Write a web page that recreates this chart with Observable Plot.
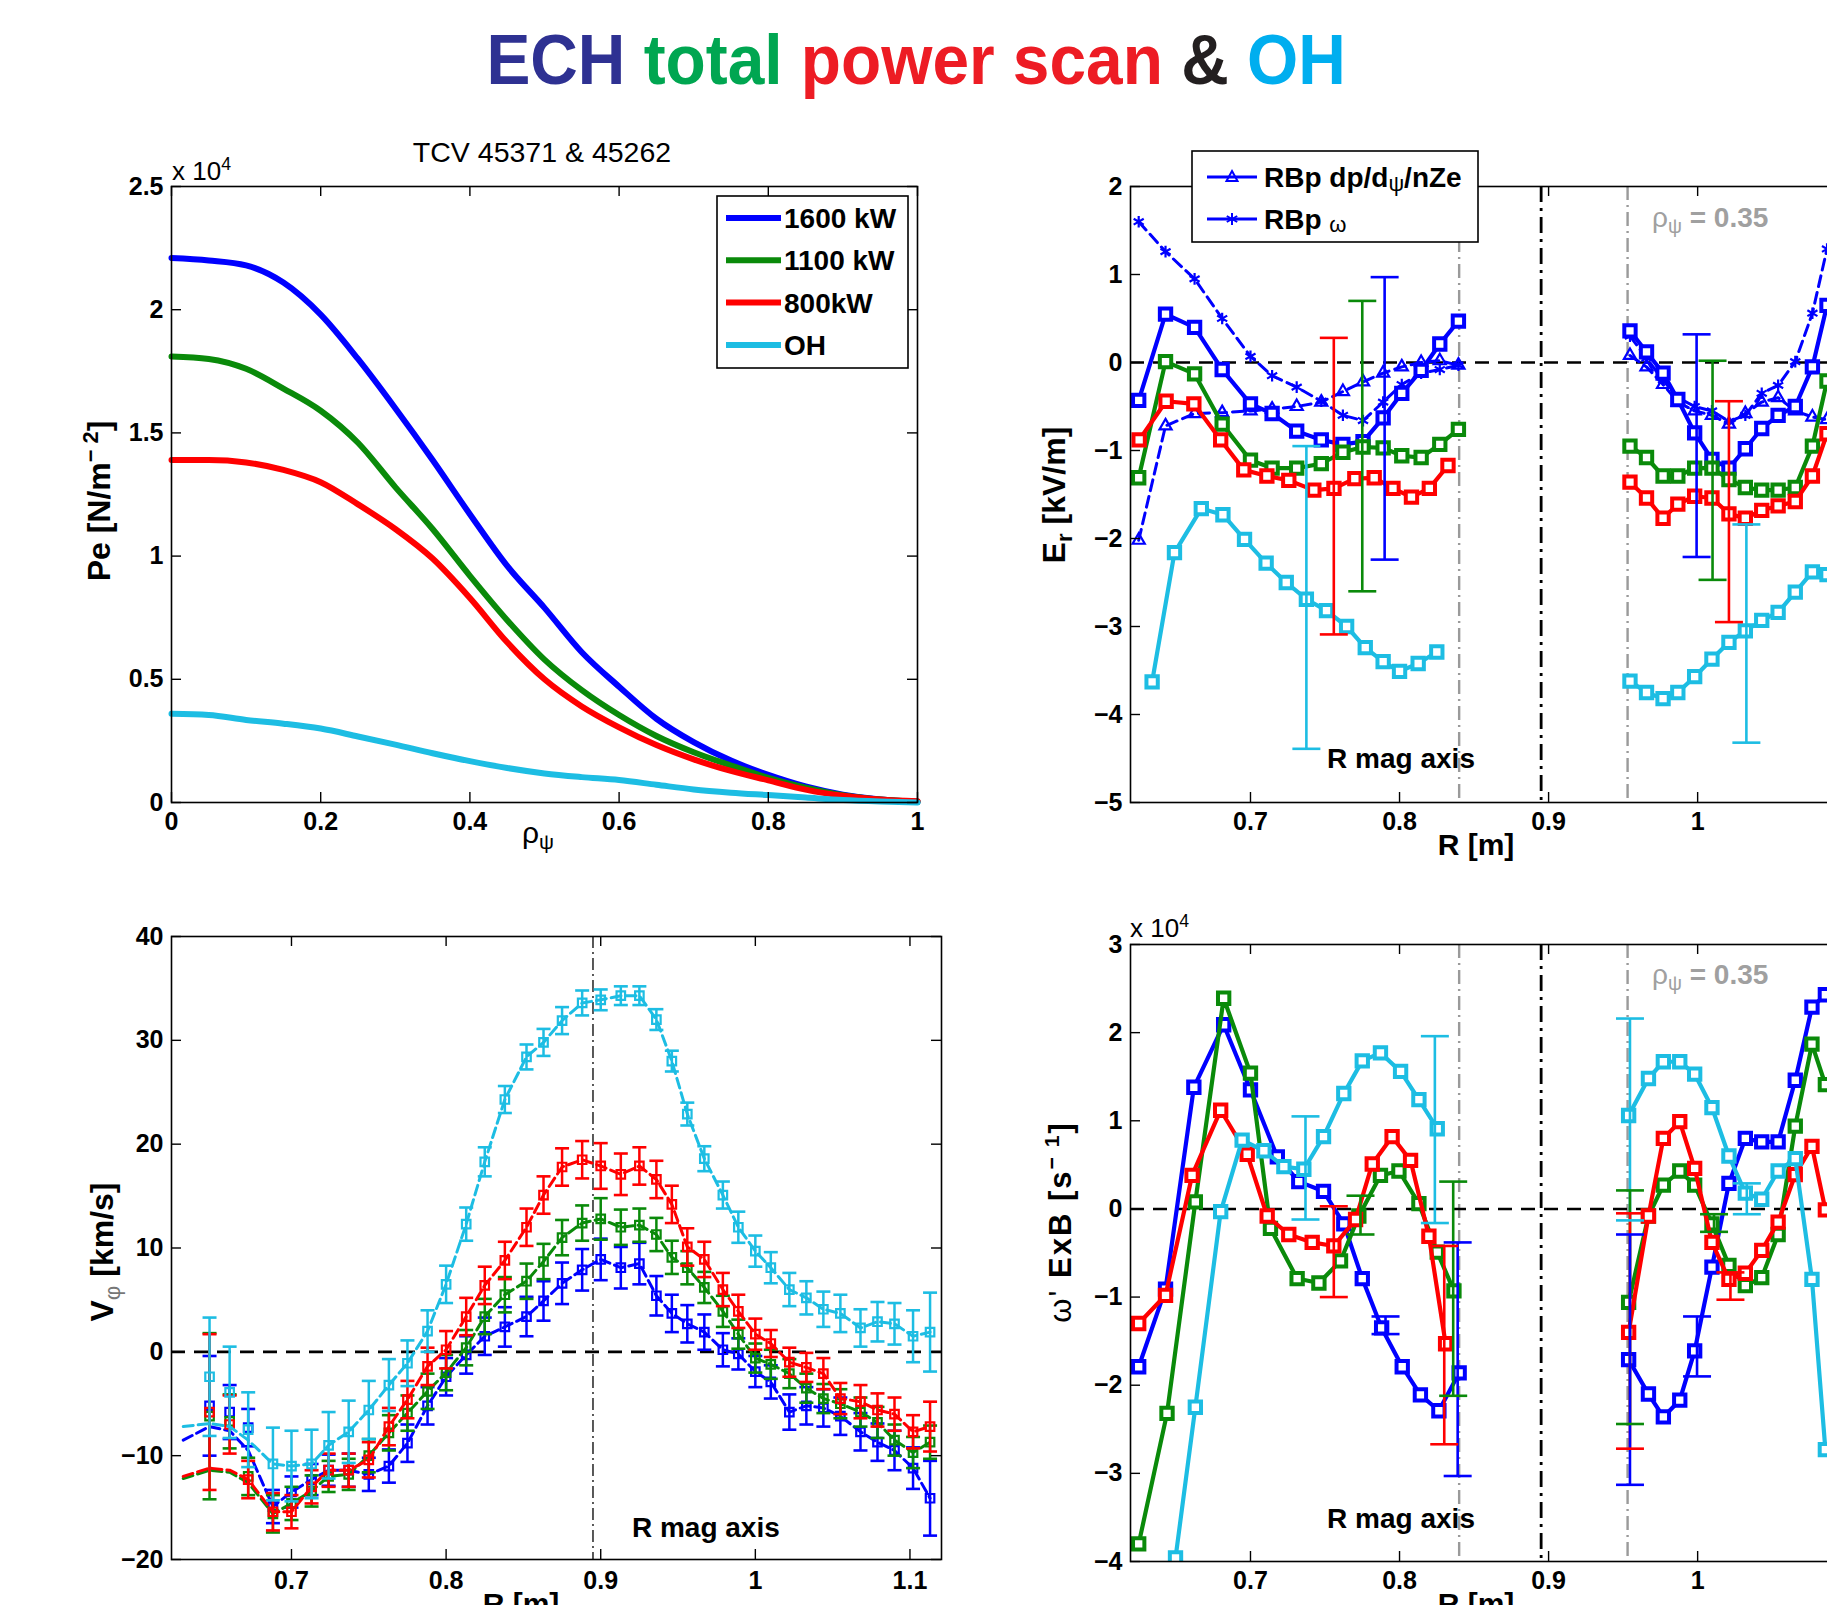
<!DOCTYPE html>
<html><head><meta charset="utf-8">
<script src="https://cdn.jsdelivr.net/npm/d3@7"></script>
<script src="https://cdn.jsdelivr.net/npm/@observablehq/plot@0.6"></script>
<style>
body{margin:0;background:#fff;}
#root{position:relative;width:1827px;height:1605px;overflow:hidden;background:#fff;font-family:'Liberation Sans',Arial,Helvetica,sans-serif;}
.t{position:absolute;white-space:nowrap;line-height:1;}
.rot{position:absolute;white-space:nowrap;line-height:1;transform:translate(-50%,-50%) rotate(-90deg);font-weight:bold;}
sup{font-size:0.68em;line-height:0;vertical-align:0.55em;}
sub{font-size:0.7em;line-height:0;vertical-align:-0.3em;}
</style></head>
<body><div id="root"></div>
<script>
// ---------------- DATA ----------------
const COL = {blue:"#0000ff", green:"#0a8a0a", red:"#ff0000", cyan:"#1dbde3"};

// Panel 1: Pe profiles (x 10^4 N/m^-2) vs rho_psi
const rho     = [0,0.05,0.1,0.15,0.2,0.25,0.3,0.35,0.4,0.45,0.5,0.55,0.6,0.65,0.7,0.75,0.8,0.85,0.9,0.95,1.0];
const pe1600  = [2.21,2.20,2.18,2.11,1.98,1.80,1.60,1.39,1.17,0.96,0.79,0.61,0.47,0.34,0.245,0.17,0.112,0.065,0.032,0.012,0.003];
const pe1100  = [1.81,1.80,1.76,1.68,1.59,1.46,1.28,1.11,0.92,0.74,0.58,0.456,0.355,0.27,0.204,0.15,0.10,0.06,0.03,0.012,0.003];
const pe800   = [1.39,1.39,1.38,1.35,1.30,1.21,1.11,0.99,0.83,0.65,0.50,0.39,0.305,0.233,0.175,0.128,0.09,0.052,0.027,0.012,0.005];
const peOH    = [0.36,0.355,0.335,0.32,0.30,0.268,0.235,0.20,0.168,0.14,0.118,0.103,0.091,0.072,0.053,0.04,0.03,0.02,0.01,0.004,0];
const p1Labels = ["1600 kW","1100 kW","800kW","OH"];
const p1XTicks = [0,0.2,0.4,0.6,0.8,1];
const p1YTicks = [0,0.5,1,1.5,2,2.5];

// Panel 2: Er [kV/m] vs R [m]
const erR_L   = [0.625,0.643,0.6625,0.681,0.700,0.7145,0.731,0.7475,0.762,0.7755,0.789,0.8015,0.8145,0.827,0.8395];
const erRred_L= [0.6253,0.6434,0.662,0.680,0.6955,0.711,0.7257,0.7425,0.756,0.770,0.783,0.7956,0.808,0.820,0.8325];
const erRcy_L = [0.634,0.649,0.667,0.6815,0.696,0.7105,0.724,0.7375,0.751,0.7645,0.777,0.789,0.800,0.8125,0.825];
const erBlue_L  = [-0.43,0.55,0.40,-0.08,-0.47,-0.58,-0.78,-0.88,-0.93,-0.90,-0.63,-0.35,-0.09,0.21,0.47];
const erGreen_L = [-1.31,0.01,-0.13,-0.70,-1.11,-1.20,-1.20,-1.15,-1.02,-0.96,-0.97,-1.06,-1.08,-0.93,-0.76];
const erRed_L   = [-0.88,-0.44,-0.47,-0.88,-1.22,-1.29,-1.34,-1.45,-1.43,-1.32,-1.31,-1.43,-1.53,-1.43,-1.17];
const erCyan_L  = [-3.63,-2.16,-1.66,-1.73,-2.01,-2.28,-2.50,-2.69,-2.82,-3.00,-3.24,-3.40,-3.51,-3.42,-3.29];
const erTri_L   = [-2.02,-0.72,-0.58,-0.57,-0.55,-0.53,-0.50,-0.45,-0.33,-0.22,-0.12,-0.05,0.00,0.02,-0.03];
const erStar_L  = [1.60,1.26,0.95,0.50,0.07,-0.15,-0.28,-0.44,-0.60,-0.66,-0.45,-0.25,-0.12,-0.08,-0.03];
const erR_R     = [0.9546,0.9657,0.9768,0.9867,0.998,1.0096,1.021,1.032,1.043,1.054,1.0655,1.077,1.0868];
const erBlue_R  = [0.36,0.12,-0.12,-0.42,-0.80,-1.10,-1.20,-0.98,-0.75,-0.60,-0.50,-0.05,0.65];
const erGreen_R = [-0.95,-1.08,-1.29,-1.29,-1.20,-1.20,-1.33,-1.42,-1.45,-1.45,-1.42,-0.95,-0.21];
const erRed_R   = [-1.36,-1.54,-1.77,-1.61,-1.52,-1.54,-1.72,-1.77,-1.68,-1.63,-1.58,-1.29,-0.81];
const erCyan_R  = [-3.62,-3.75,-3.82,-3.75,-3.57,-3.37,-3.18,-3.05,-2.93,-2.84,-2.61,-2.38,-2.41];
const erTri_R   = [0.08,-0.05,-0.25,-0.45,-0.55,-0.60,-0.70,-0.58,-0.45,-0.40,-0.55,-0.62,-0.65];
const erStar_R  = [0.30,0.05,-0.20,-0.40,-0.50,-0.55,-0.67,-0.60,-0.35,-0.26,0.01,0.56,1.29];
const erErrR    = [0.7375,0.7559,0.775,0.790,0.9993,1.010,1.021,1.0327];
const erErrLo   = [-4.39,-3.09,-2.60,-2.24,-2.21,-2.47,-2.95,-4.32];
const erErrHi   = [-0.95,0.28,0.70,0.97,0.32,0.02,-0.44,-1.84];
const erErrCol  = ["cyan","red","green","blue","blue","green","red","cyan"];
const p2Legend  = ["RBp dp/d", "ψ", "/nZe", "RBp ", "ω"];
const p2XTicks = [0.7,0.8,0.9,1,1.1];
const p2YTicks = [-5,-4,-3,-2,-1,0,1,2];

// vertical reference lines
const rhoLines = [0.840, 0.953];   // rho_psi = 0.35
const magAxis  = [0.895];          // R mag axis

// Panel 3: V_phi [km/s] vs R [m]
const R3 = [0.647,0.660,0.672,0.688,0.700,0.713,0.724,0.737,0.750,0.763,0.775,0.788,0.800,0.813,0.825,0.838,0.852,0.863,0.875,0.888,0.900,0.913,0.925,0.936,0.946,0.956,0.967,0.979,0.989,1.000,1.010,1.022,1.033,1.044,1.055,1.068,1.079,1.090,1.102,1.113];
const vCyan  = [-2.4,-3.9,-7.5,-10.8,-11.0,-10.8,-9.0,-7.7,-5.6,-3.2,-1.1,2.0,6.5,12.3,18.3,24.3,28.4,29.8,31.9,33.6,33.9,34.3,34.3,32.0,28.0,22.9,18.6,15.1,12.0,9.7,8.1,6.0,5.2,4.1,3.7,2.3,2.9,2.7,1.5,1.9];
const eCyan  = [5.7,4.4,3.6,3.5,3.4,3.3,3.2,3.0,2.8,2.5,2.2,2.0,1.8,1.6,1.4,1.3,1.2,1.3,1.3,1.2,1.0,0.9,0.9,1.0,1.0,1.1,1.2,1.3,1.5,1.5,1.5,1.6,1.6,1.7,1.8,1.8,1.9,2.0,2.5,3.8];
const vRed   = [-5.8,-7.0,-12.3,-15.4,-15.4,-13.0,-11.4,-11.4,-10.4,-7.2,-4.6,-1.4,0.2,3.4,6.4,8.8,12.0,15.1,17.8,18.5,17.9,17.1,17.9,16.6,14.2,10.1,8.9,6.0,3.9,1.7,0.8,-1.0,-1.5,-2.1,-4.5,-4.8,-5.6,-6.0,-7.7,-7.2];
const eRed   = [7.5,2.8,1.8,1.8,1.6,1.6,1.6,1.6,1.7,1.8,1.8,1.8,1.8,1.8,1.8,1.8,1.8,1.8,1.8,1.8,2.2,2.0,1.8,1.8,1.8,1.8,1.7,1.6,1.6,1.5,1.3,1.4,1.4,1.5,1.5,1.6,1.6,1.6,1.6,2.4];
const vGreen = [-6.2,-6.7,-12.0,-15.6,-14.6,-13.4,-12.0,-11.8,-10.0,-7.8,-5.9,-3.8,-2.0,0.4,3.4,5.5,6.8,8.7,11.0,12.4,12.8,12.0,12.2,11.3,9.1,8.1,6.2,3.9,1.7,-0.6,-1.2,-2.1,-3.5,-4.5,-5.0,-5.8,-6.8,-8.5,-9.7,-8.7];
const eGreen = [8.0,2.6,1.8,1.8,1.6,1.5,1.5,1.5,1.6,1.7,1.7,1.7,1.7,1.7,1.7,1.7,1.7,1.7,1.7,1.7,2.0,1.7,1.6,1.6,1.6,1.6,1.5,1.5,1.4,1.4,1.4,1.4,1.4,1.4,1.4,1.4,1.5,1.5,1.5,1.6];
const vBlue  = [-5.2,-5.8,-7.3,-14.9,-13.5,-12.3,-11.4,-11.4,-11.8,-11.0,-8.8,-5.2,-2.4,-0.3,1.5,2.4,3.4,4.9,6.6,7.9,8.9,8.1,8.5,5.4,3.7,2.7,1.9,0.2,-0.2,-1.9,-2.9,-5.8,-5.2,-5.4,-6.2,-7.7,-8.7,-9.5,-11.2,-14.1];
const eBlue  = [4.8,2.6,1.8,1.6,1.5,1.5,1.5,1.6,1.6,1.6,1.8,1.8,1.8,1.8,1.8,1.9,1.9,1.9,2.0,2.0,2.0,2.0,2.0,1.9,1.8,1.8,1.7,1.6,1.5,1.5,1.6,1.7,1.8,1.8,1.8,1.8,1.8,1.9,2.0,3.6];
// dashed profile lines at the inboard edge (line only, before joining the points)
const R3head     = [0.630,0.647,0.660,0.672];
const blueHead   = [-8.5,-7.2,-7.6,-9.5];
const greenHead  = [-12.2,-11.4,-11.6,-12.6];
const redHead    = [-12.0,-11.2,-11.4,-12.3];
const cyanHead   = [-7.2,-6.9,-7.2,-8.5];
const p3XTicks = [0.7,0.8,0.9,1,1.1];
const p3YTicks = [-20,-10,0,10,20,30,40];

// Panel 4: omega' ExB (x 10^4 s^-1) vs R [m]
const wRblue_L  = [0.625,0.643,0.662,0.682,0.700,0.718,0.7324,0.749,0.7626,0.775,0.788,0.8018,0.814,0.8264,0.840];
const wBlue_L   = [-1.79,-0.91,1.38,2.09,1.35,0.59,0.31,0.20,-0.17,-0.79,-1.35,-1.79,-2.11,-2.29,-1.86];
const wRgreen_L = [0.625,0.644,0.663,0.682,0.700,0.7134,0.7313,0.7459,0.7604,0.7727,0.7872,0.7996,0.813,0.8253,0.8365];
const wGreen_L  = [-3.80,-2.32,0.08,2.39,1.54,-0.22,-0.79,-0.84,-0.59,-0.08,0.38,0.43,0.06,-0.49,-0.93];
const wRred_L   = [0.625,0.643,0.6608,0.680,0.6978,0.7112,0.7257,0.7414,0.7559,0.7705,0.7817,0.795,0.8074,0.8197,0.8309];
const wRed_L    = [-1.30,-0.98,0.38,1.12,0.62,-0.08,-0.29,-0.38,-0.42,-0.12,0.51,0.82,0.55,-0.31,-1.53];
const wRcyan_L  = [0.6497,0.663,0.680,0.6944,0.709,0.7224,0.7358,0.749,0.7626,0.775,0.7872,0.8007,0.813,0.8253];
const wCyan_L   = [-3.96,-2.25,-0.03,0.78,0.66,0.48,0.45,0.82,1.31,1.68,1.77,1.56,1.24,0.91];
const wR_R      = [0.9537,0.967,0.977,0.988,0.998,1.0096,1.021,1.032,1.043,1.054,1.0655,1.0767,1.0857];
const wBlue_R   = [-1.71,-2.10,-2.36,-2.17,-1.61,-0.66,0.29,0.80,0.76,0.76,1.46,2.29,2.43];
const wGreen_R  = [-1.06,-0.08,0.27,0.43,0.27,-0.17,-0.64,-0.87,-0.78,-0.29,0.94,1.87,1.41];
const wRed_R    = [-1.40,-0.08,0.80,0.99,0.46,-0.38,-0.80,-0.73,-0.47,-0.15,0.39,0.71,-0.01];
const wCyan_R   = [1.06,1.48,1.67,1.67,1.53,1.15,0.60,0.18,0.11,0.43,0.57,-0.80,-2.73];
const wErrR   = [0.7369,0.7559,0.7738,0.7906,0.8237,0.830,0.836,0.839,0.9546,0.9546,0.9546,0.9546,0.9996,1.011,1.022,1.033];
const wErrLo  = [-0.12,-1.00,-0.29,-1.42,-0.16,-2.67,-2.12,-3.03,-0.13,-2.44,-2.72,-3.13,-1.90,-0.26,-1.03,-0.06];
const wErrHi  = [1.05,0.03,0.15,-1.22,1.96,-0.42,0.31,-0.38,2.16,0.21,-0.05,-0.29,-1.22,-0.06,-0.72,0.29];
const wErrCol = ["cyan","red","green","blue","cyan","red","green","blue","cyan","green","red","blue","blue","green","red","cyan"];
const p4XTicks = [0.7,0.8,0.9,1,1.1];
const p4YTicks = [-4,-3,-2,-1,0,1,2,3];

// ---------------- HELPERS ----------------
const FONT = "'Liberation Sans', Arial, Helvetica, sans-serif";
const root = document.getElementById("root");
const M = {l: 80, r: 30, t: 20, b: 60};
const fmt = d => (d < 0 ? "\u2212" : "") + String(Math.abs(d));
const CAP = {draw(ctx, size){ const r = Math.sqrt(size/Math.PI); ctx.moveTo(-r,0); ctx.lineTo(r,0); }};

function frameMarks(xTicks, yTicks, pw, ph, xPad){
  const L = 10, sw = 1.4;
  return [
    Plot.tickX(xTicks, {x: d=>d, insetTop: ph-L, stroke:"black", strokeWidth: sw}),
    Plot.tickX(xTicks, {x: d=>d, insetBottom: ph-L, stroke:"black", strokeWidth: sw}),
    Plot.tickY(yTicks, {y: d=>d, insetRight: pw-L, stroke:"black", strokeWidth: sw}),
    Plot.tickY(yTicks, {y: d=>d, insetLeft: pw-L, stroke:"black", strokeWidth: sw}),
    Plot.axisX({ticks: xTicks, tickSize: 0, tickPadding: xPad, tickFormat: fmt, label: null, fontSize: 25, fontWeight: "bold"}),
    Plot.axisY({ticks: yTicks, tickSize: 0, tickPadding: 8, tickFormat: fmt, label: null, fontSize: 25, fontWeight: "bold"}),
    Plot.frame({stroke: "black", strokeWidth: 1.6})
  ];
}
function makePlot(pw, ph, xDomain, yDomain, marks, fx, fy){
  const svg = Plot.plot({
    width: M.l+pw+M.r, height: M.t+ph+M.b,
    marginLeft: M.l, marginRight: M.r, marginTop: M.t, marginBottom: M.b,
    x: {domain: xDomain}, y: {domain: yDomain},
    color: {type: "identity"},
    style: {fontFamily: FONT, fontSize: "25px", fontWeight: "bold", color: "black", background: "transparent", maxWidth: "none", overflow: "visible"},
    marks
  });
  svg.style.position = "absolute";
  svg.style.left = (fx - M.l) + "px";
  svg.style.top = (fy - M.t) + "px";
  root.appendChild(svg);
  return svg;
}
function pts(R, V){ return R.map((r,i)=>({R:r, v:V[i]})); }
function sqSeries(R, V, color){
  const d = pts(R, V);
  return [
    Plot.line(d, {x:"R", y:"v", stroke: color, strokeWidth: 4.2, clip: true}),
    Plot.dot(d, {x:"R", y:"v", symbol:"square", r: 6.4, stroke: color, strokeWidth: 4, fill:"white", clip: true})
  ];
}
function dashSeries(R, V, symbol, r){
  const d = pts(R, V);
  return [
    Plot.line(d, {x:"R", y:"v", stroke: COL.blue, strokeWidth: 3, strokeDasharray: "11,6", clip: true}),
    Plot.dot(d, {x:"R", y:"v", symbol, r, stroke: COL.blue, strokeWidth: 2.2, fill: "none", clip: true})
  ];
}
function errBars(R, lo, hi, cols, capR, sw){
  const d = R.map((r,i)=>({R:r, lo:lo[i], hi:hi[i], c: COL[cols[i]]}));
  return [
    Plot.ruleX(d, {x:"R", y1:"lo", y2:"hi", stroke:"c", strokeWidth: sw, clip: true}),
    Plot.dot(d, {x:"R", y:"lo", symbol: CAP, r: capR, stroke:"c", strokeWidth: sw, clip: true}),
    Plot.dot(d, {x:"R", y:"hi", symbol: CAP, r: capR, stroke:"c", strokeWidth: sw, clip: true})
  ];
}
function refLines(){
  return [
    Plot.ruleX(rhoLines, {x: d=>d, stroke:"#9a9a9a", strokeWidth: 2.4, strokeDasharray:"14,5,2,5"}),
    Plot.ruleX(magAxis, {x: d=>d, stroke:"black", strokeWidth: 2.8, strokeDasharray:"16,6,3,6"}),
    Plot.ruleY([0], {stroke:"black", strokeWidth: 2.6, strokeDasharray:"14,9"})
  ];
}
function html(s){ root.insertAdjacentHTML("beforeend", s); }

// ---------------- TITLE ----------------
html(`<div class="t" style="left:0;top:25px;width:1832px;text-align:center;font-weight:bold;font-size:70px;">
<span style="display:inline-block;transform:scaleX(0.94);">
<span style="color:#2e3192">ECH</span> <span style="color:#00a651">total</span> <span style="color:#ed1c24">power scan</span> <span style="color:#231f20">&amp;</span> <span style="color:#00aeef">OH</span></span></div>`);

// ---------------- PANEL 1 ----------------
{
  const series = [[pe1600, COL.blue],[pe1100, COL.green],[pe800, COL.red],[peOH, COL.cyan]];
  const marks = [];
  for (const [vals, c] of series) {
    marks.push(Plot.line(rho.map((r,i)=>({r, v: vals[i]})), {x:"r", y:"v", stroke: c, strokeWidth: 6, curve:"monotone-x"}));
  }
  makePlot(746, 616, [0,1], [0,2.5], [...marks, ...frameMarks(p1XTicks, p1YTicks, 746, 616, 10)], 171, 186);
  html(`<div class="t" style="left:542px;top:138px;transform:translateX(-50%);font-size:28.5px;">TCV 45371 &amp; 45262</div>`);
  html(`<div class="t" style="left:172px;top:158px;font-size:26px;">x 10<sup>4</sup></div>`);
  html(`<div class="t" style="left:538px;top:818px;transform:translateX(-50%);font-size:30px;">ρ<sub>ψ</sub></div>`);
  html(`<div class="rot" style="left:99px;top:501px;font-size:32px;">Pe [N/m<sup>\u2212 2</sup>]</div>`);
  // legend
  const cols = [COL.blue, COL.green, COL.red, COL.cyan];
  let rows = "";
  p1Labels.forEach((lab,i)=>{
    const y = 23 + i*42.3;
    rows += `<line x1="10" x2="65" y1="${y}" y2="${y}" stroke="${cols[i]}" stroke-width="6"/>
<text x="68" y="${y+10}" font-size="28" font-weight="bold">${lab}</text>`;
  });
  html(`<svg width="194" height="175" style="position:absolute;left:716px;top:195px;font-family:${FONT.replace(/'/g,"")}">
<rect x="1" y="1" width="191" height="172" fill="white" stroke="black" stroke-width="1.6"/>${rows}</svg>`);
}

// ---------------- PANEL 2 ----------------
{
  const marks = [
    ...refLines(),
    ...dashSeries(erR_L, erTri_L, "triangle", 4.5),
    ...dashSeries(erR_R, erTri_R, "triangle", 4.5),
    ...dashSeries(erR_L, erStar_L, "asterisk", 5.5),
    ...dashSeries(erR_R, erStar_R, "asterisk", 5.5),
    ...sqSeries(erR_L, erBlue_L, COL.blue), ...sqSeries(erR_R, erBlue_R, COL.blue),
    ...sqSeries(erR_L, erGreen_L, COL.green), ...sqSeries(erR_R, erGreen_R, COL.green),
    ...sqSeries(erRred_L, erRed_L, COL.red), ...sqSeries(erR_R, erRed_R, COL.red),
    ...sqSeries(erRcy_L, erCyan_L, COL.cyan), ...sqSeries(erR_R, erCyan_R, COL.cyan),
    ...errBars(erErrR, erErrLo, erErrHi, erErrCol, 14, 2.6),
    Plot.text(["R mag axis"], {x: 0.801, y: -4.51, text: d=>d, fontSize: 28, fontWeight: "bold", textAnchor: "middle"}),
    ...frameMarks(p2XTicks, p2YTicks, 746, 616, 10)
  ];
  makePlot(746, 616, [0.6195, 1.12], [-5, 2], marks, 1130, 186);
  html(`<div class="t" style="left:1476px;top:830px;transform:translateX(-50%);font-size:30px;font-weight:bold;">R [m]</div>`);
  html(`<div class="rot" style="left:1054px;top:495px;font-size:32px;">E<sub>r</sub> [kV/m]</div>`);
  html(`<div class="t" style="left:1652px;top:204px;font-size:28px;font-weight:bold;color:#a0a0a0;"><span style="font-weight:normal">ρ</span><sub style="font-weight:normal">ψ</sub> = 0.35</div>`);
  // legend
  html(`<svg width="290" height="94" style="position:absolute;left:1191px;top:150px;font-family:${FONT.replace(/'/g,"")}">
<rect x="1" y="1" width="286" height="91" fill="white" stroke="black" stroke-width="1.6"/>
<line x1="16" x2="66" y1="27" y2="27" stroke="${COL.blue}" stroke-width="3"/>
<path d="M41,21 L46.5,31 L35.5,31 Z" fill="none" stroke="${COL.blue}" stroke-width="2"/>
<text x="73" y="37" font-size="28" font-weight="bold">${p2Legend[0]}<tspan font-size="22" font-weight="normal" dy="4">${p2Legend[1]}</tspan><tspan dy="-4">${p2Legend[2]}</tspan></text>
<line x1="16" x2="66" y1="69" y2="69" stroke="${COL.blue}" stroke-width="3"/>
<path d="M41,63 V75 M35.8,66 L46.2,72 M35.8,72 L46.2,66" stroke="${COL.blue}" stroke-width="2"/>
<text x="73" y="79" font-size="28" font-weight="bold">${p2Legend[3]}<tspan font-size="22" font-weight="normal" dy="3">${p2Legend[4]}</tspan></text>
</svg>`);
}

// ---------------- PANEL 3 ----------------
{
  const series = [
    [vBlue, eBlue, blueHead, COL.blue],
    [vGreen, eGreen, greenHead, COL.green],
    [vRed, eRed, redHead, COL.red],
    [vCyan, eCyan, cyanHead, COL.cyan]
  ];
  const marks = [
    Plot.ruleY([0], {stroke:"black", strokeWidth: 2.6, strokeDasharray:"14,9"}),
    Plot.ruleX(magAxis, {x: d=>d, stroke:"black", strokeWidth: 1.3, strokeDasharray:"12,4,2,4"})
  ];
  for (const [v, e, head, c] of series) {
    const d = R3.map((r,i)=>({R:r, v:v[i], e:e[i]}));
    const lineData = [...R3head.map((r,i)=>({R:r, v:head[i]})), ...d.slice(3)];
    marks.push(
      Plot.line(lineData, {x:"R", y:"v", stroke: c, strokeWidth: 3, strokeDasharray:"10,5", clip: true}),
      Plot.ruleX(d, {x:"R", y1: p=>p.v-p.e, y2: p=>p.v+p.e, stroke: c, strokeWidth: 2.5, clip: true}),
      Plot.dot(d, {x:"R", y: p=>p.v-p.e, symbol: CAP, r: 7, stroke: c, strokeWidth: 2.6, clip: true}),
      Plot.dot(d, {x:"R", y: p=>p.v+p.e, symbol: CAP, r: 7, stroke: c, strokeWidth: 2.6, clip: true}),
      Plot.dot(d, {x:"R", y:"v", symbol:"square", r: 4.8, stroke: c, strokeWidth: 2.2, fill:"none", clip: true})
    );
  }
  marks.push(Plot.text(["R mag axis"], {x: 0.968, y: -17.0, text: d=>d, fontSize: 28, fontWeight: "bold", textAnchor: "middle"}));
  marks.push(...frameMarks(p3XTicks, p3YTicks, 770, 623, 12));
  makePlot(770, 623, [0.6224, 1.1204], [-20, 40], marks, 171, 936);
  html(`<div class="t" style="left:521px;top:1589px;transform:translateX(-50%);font-size:30px;font-weight:bold;">R [m]</div>`);
  html(`<div class="rot" style="left:102px;top:1252px;font-size:32px;">V<sub style="color:#777;font-weight:normal">φ</sub> [km/s]</div>`);
}

// ---------------- PANEL 4 ----------------
{
  const marks = [
    ...refLines(),
    ...sqSeries(wRblue_L, wBlue_L, COL.blue), ...sqSeries(wR_R, wBlue_R, COL.blue),
    ...sqSeries(wRgreen_L, wGreen_L, COL.green), ...sqSeries(wR_R, wGreen_R, COL.green),
    ...sqSeries(wRred_L, wRed_L, COL.red), ...sqSeries(wR_R, wRed_R, COL.red),
    ...sqSeries(wRcyan_L, wCyan_L, COL.cyan), ...sqSeries(wR_R, wCyan_R, COL.cyan),
    ...errBars(wErrR, wErrLo, wErrHi, wErrCol, 14, 2.6),
    Plot.text(["R mag axis"], {x: 0.801, y: -3.52, text: d=>d, fontSize: 28, fontWeight: "bold", textAnchor: "middle"}),
    ...frameMarks(p4XTicks, p4YTicks, 746, 617, 10)
  ];
  makePlot(746, 617, [0.6195, 1.12], [-4, 3], marks, 1130, 944);
  html(`<div class="t" style="left:1130px;top:915px;font-size:26px;">x 10<sup>4</sup></div>`);
  html(`<div class="t" style="left:1476px;top:1589px;transform:translateX(-50%);font-size:30px;font-weight:bold;">R [m]</div>`);
  html(`<div class="rot" style="left:1060px;top:1222px;font-size:31px;letter-spacing:2px;"><span style="font-weight:normal">ω'</span> ExB [s<sup>\u2212 1</sup>]</div>`);
  html(`<div class="t" style="left:1652px;top:961px;font-size:28px;font-weight:bold;color:#a0a0a0;"><span style="font-weight:normal">ρ</span><sub style="font-weight:normal">ψ</sub> = 0.35</div>`);
}
</script></body></html>
